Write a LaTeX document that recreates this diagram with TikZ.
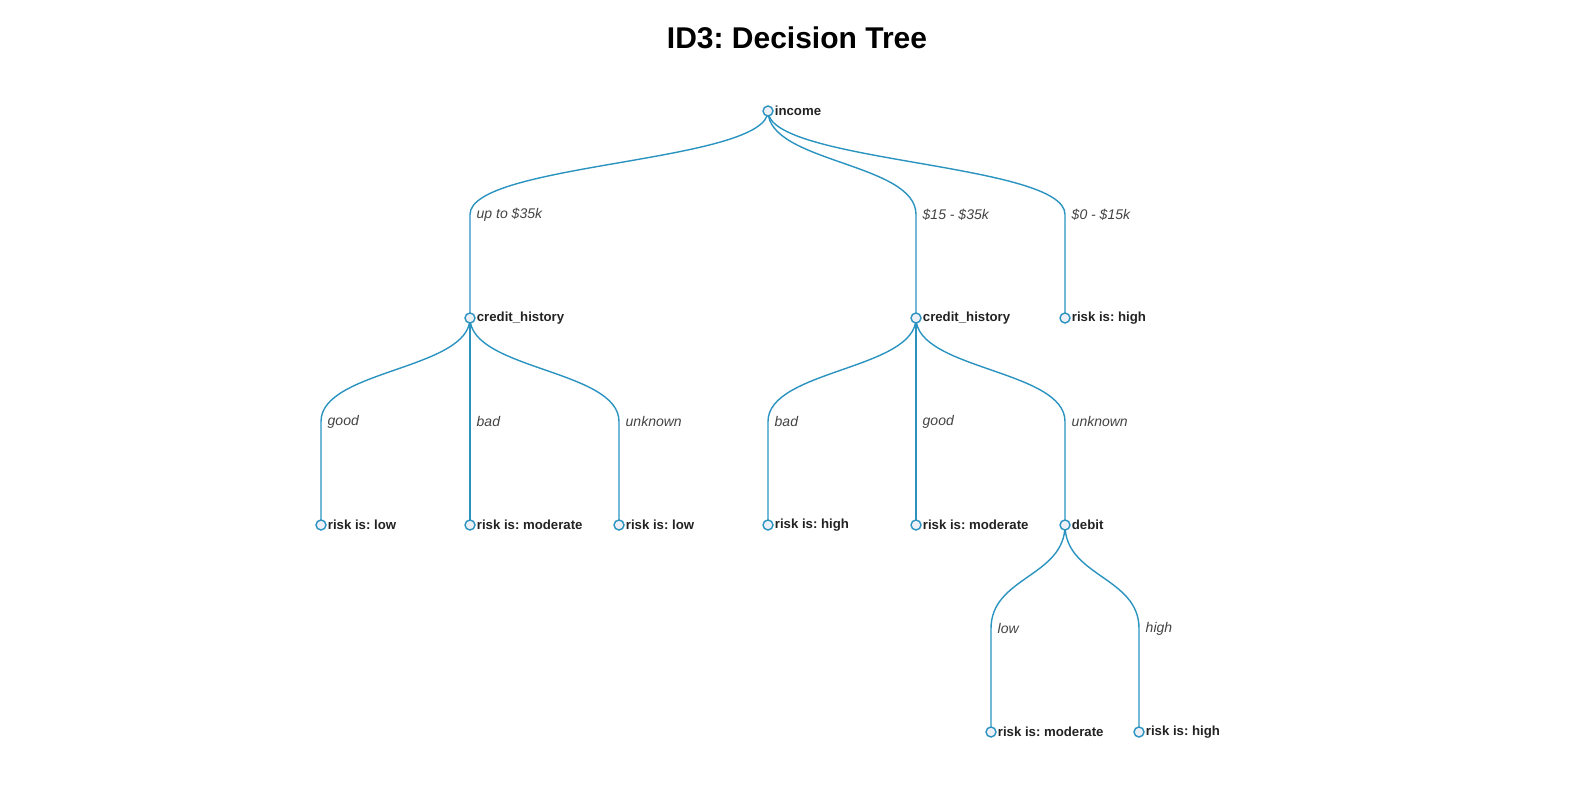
\documentclass[tikz,border=0pt]{standalone}
\usepackage{fontspec}
\setmainfont{Liberation Sans}
\usepackage{tikz}
\usetikzlibrary{calc,backgrounds}
\definecolor{linkblue}{HTML}{2A93BF}
\definecolor{dotfill}{HTML}{EEF0F8}
\definecolor{txtdark}{HTML}{222222}
\frenchspacing

\tikzset{
	treenode/.style={circle, draw=linkblue, fill=dotfill, line width=1.4pt, minimum size=10pt, inner sep=0pt},
	nodelbl/.style={font=\fontsize{13.2}{16}\selectfont\bfseries, text=txtdark, inner sep=0pt, label distance=0pt},
	edgelbl/.style={font=\fontsize{14}{16}\selectfont\itshape, text=txtdark!85, anchor=west, inner sep=0pt, xshift=6pt},
	link/.style={draw=linkblue, line width=1.4pt},
}

% parent, child, label
\newcommand{\branch}[3]{%
	\coordinate (h) at ($(#1)!0.5!(#2)$);
	\coordinate (m) at (#2 |- h);
	\coordinate (q) at ($(#1)!0.5!(m)$);
	\draw[link] (#1.center) .. controls (#1 |- q) and (m |- q) .. (m) node[edgelbl]{#3} -- (#2.center);
}

\begin{document}
\begin{tikzpicture}[x=1pt, y=-1pt]
	\useasboundingbox (0,0) rectangle (1589,802);
	\node[font=\fontsize{30}{34}\selectfont\bfseries] (title) at (797,38) {ID3: Decision Tree};

	\node[treenode, label={[nodelbl,xshift=1pt]right:income}] (income) at (768,111) {};
	\node[treenode, label={[nodelbl,xshift=1pt]right:credit\_history}] (credA) at (470,318) {};
	\node[treenode, label={[nodelbl,xshift=1pt]right:credit\_history}] (credB) at (916,318) {};
	\node[treenode, label={[nodelbl,xshift=1pt]right:risk is: high}] (riskA) at (1065,318) {};
	\node[treenode, label={[nodelbl,xshift=1pt]right:risk is: low}] (riskB) at (321,525) {};
	\node[treenode, label={[nodelbl,xshift=1pt]right:risk is: moderate}] (riskC) at (470,525) {};
	\node[treenode, label={[nodelbl,xshift=1pt]right:risk is: low}] (riskD) at (619,525) {};
	\node[treenode, label={[nodelbl,xshift=1pt]right:risk is: high}] (riskE) at (768,525) {};
	\node[treenode, label={[nodelbl,xshift=1pt]right:risk is: moderate}] (riskF) at (916,525) {};
	\node[treenode, label={[nodelbl,xshift=1pt]right:debit}] (debit) at (1065,525) {};
	\node[treenode, label={[nodelbl,xshift=1pt]right:risk is: moderate}] (riskG) at (991,732) {};
	\node[treenode, label={[nodelbl,xshift=1pt]right:risk is: high}] (riskH) at (1139,732) {};

	\begin{scope}[on background layer]
		\branch{income}{credA}{up to \$35k}
		\branch{income}{credB}{\$15 - \$35k}
		\branch{income}{riskA}{\$0 - \$15k}
		\branch{credA}{riskB}{good}
		\branch{credA}{riskC}{bad}
		\branch{credA}{riskD}{unknown}
		\branch{credB}{riskE}{bad}
		\branch{credB}{riskF}{good}
		\branch{credB}{debit}{unknown}
		\branch{debit}{riskG}{low}
		\branch{debit}{riskH}{high}
	\end{scope}
\end{tikzpicture}
\end{document}
